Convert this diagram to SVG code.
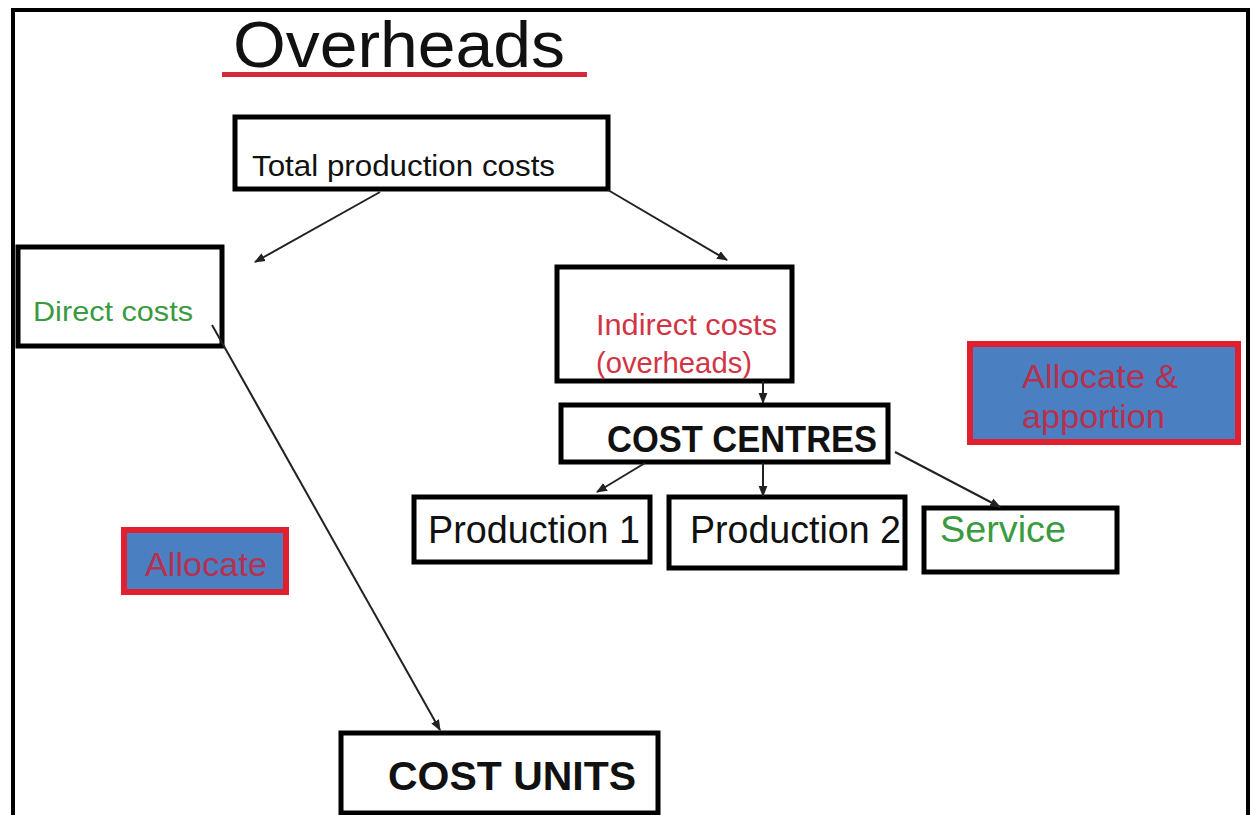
<svg xmlns="http://www.w3.org/2000/svg" width="1250" height="815" viewBox="0 0 1250 815">
<style>
.box{fill:#fff;stroke:#000;stroke-width:5}
.hl{fill:#4a7fc2;stroke:#e0202e;stroke-width:6}
.t{font-family:"Liberation Sans",Arial,sans-serif;fill:#111}
.b{font-weight:bold}
.g{fill:#3a9a40}
.r{fill:#d03545}
.rb{fill:#b8304e}
.c line{stroke:#222;stroke-width:2;marker-end:url(#ah)}
</style>
<defs>
<marker id="ah" viewBox="0 0 10 10" refX="9" refY="5" markerWidth="5.5" markerHeight="5.5" orient="auto" markerUnits="strokeWidth">
<path d="M0,1 L10,5 L0,9 z" fill="#222"/>
</marker>
</defs>
<rect width="1250" height="815" fill="#fff"/>
<path d="M13,815 V10 H1248 V815" fill="none" stroke="#000" stroke-width="4"/>
<g id="title">
<text class="t" x="233" y="67" font-size="64" textLength="332" lengthAdjust="spacingAndGlyphs">Overheads</text>
<rect x="222" y="72" width="365" height="5" fill="#d42a3a"/>
</g>
<g id="total">
<rect class="box" x="235" y="117" width="373" height="72"/>
<text class="t" x="252" y="176" font-size="30" textLength="303" lengthAdjust="spacingAndGlyphs">Total production costs</text>
</g>
<g id="direct">
<rect class="box" x="18" y="247" width="204" height="99"/>
<text class="t g" x="33" y="321" font-size="28" textLength="160" lengthAdjust="spacingAndGlyphs">Direct costs</text>
</g>
<g id="indirect">
<rect class="box" x="557" y="267" width="235" height="114"/>
<text class="t r" x="596" y="335" font-size="29" textLength="181" lengthAdjust="spacingAndGlyphs">Indirect costs</text>
<text class="t r" x="596" y="373" font-size="29" textLength="156" lengthAdjust="spacingAndGlyphs">(overheads)</text>
</g>
<g id="costcentres">
<rect class="box" x="561" y="405" width="327" height="57"/>
<text class="t b" x="607" y="452" font-size="37" textLength="270" lengthAdjust="spacingAndGlyphs">COST CENTRES</text>
</g>
<g id="prod1">
<rect class="box" x="414" y="497" width="236" height="65"/>
<text class="t" x="428" y="543" font-size="38" textLength="212" lengthAdjust="spacingAndGlyphs">Production 1</text>
</g>
<g id="prod2">
<rect class="box" x="669" y="497" width="236" height="71"/>
<text class="t" x="690" y="543" font-size="38" textLength="211" lengthAdjust="spacingAndGlyphs">Production 2</text>
</g>
<g id="service">
<rect class="box" x="924" y="508" width="193" height="64"/>
<text class="t g" x="940" y="542" font-size="36" textLength="126" lengthAdjust="spacingAndGlyphs">Service</text>
</g>
<g id="allocapp">
<rect class="hl" x="970" y="344" width="268" height="98"/>
<text class="t rb" x="1022" y="388" font-size="34" textLength="156" lengthAdjust="spacingAndGlyphs">Allocate &amp;</text>
<text class="t rb" x="1022" y="428" font-size="34" textLength="143" lengthAdjust="spacingAndGlyphs">apportion</text>
</g>
<g id="allocate">
<rect class="hl" x="124" y="530" width="162" height="62"/>
<text class="t rb" x="145" y="576" font-size="33" textLength="122" lengthAdjust="spacingAndGlyphs">Allocate</text>
</g>
<g id="costunits">
<rect class="box" x="341" y="733" width="317" height="80"/>
<text class="t b" x="388" y="790" font-size="41" textLength="248" lengthAdjust="spacingAndGlyphs">COST UNITS</text>
</g>
<g class="c" id="connectors">
<line x1="380" y1="192" x2="255" y2="262"/>
<line x1="608" y1="190" x2="727" y2="260"/>
<line x1="212" y1="325" x2="440" y2="730"/>
<line x1="763" y1="381" x2="763" y2="403"/>
<line x1="645" y1="463" x2="597" y2="492"/>
<line x1="763" y1="463" x2="763" y2="496"/>
<line x1="895" y1="452" x2="1000" y2="507"/>
</g>
</svg>
